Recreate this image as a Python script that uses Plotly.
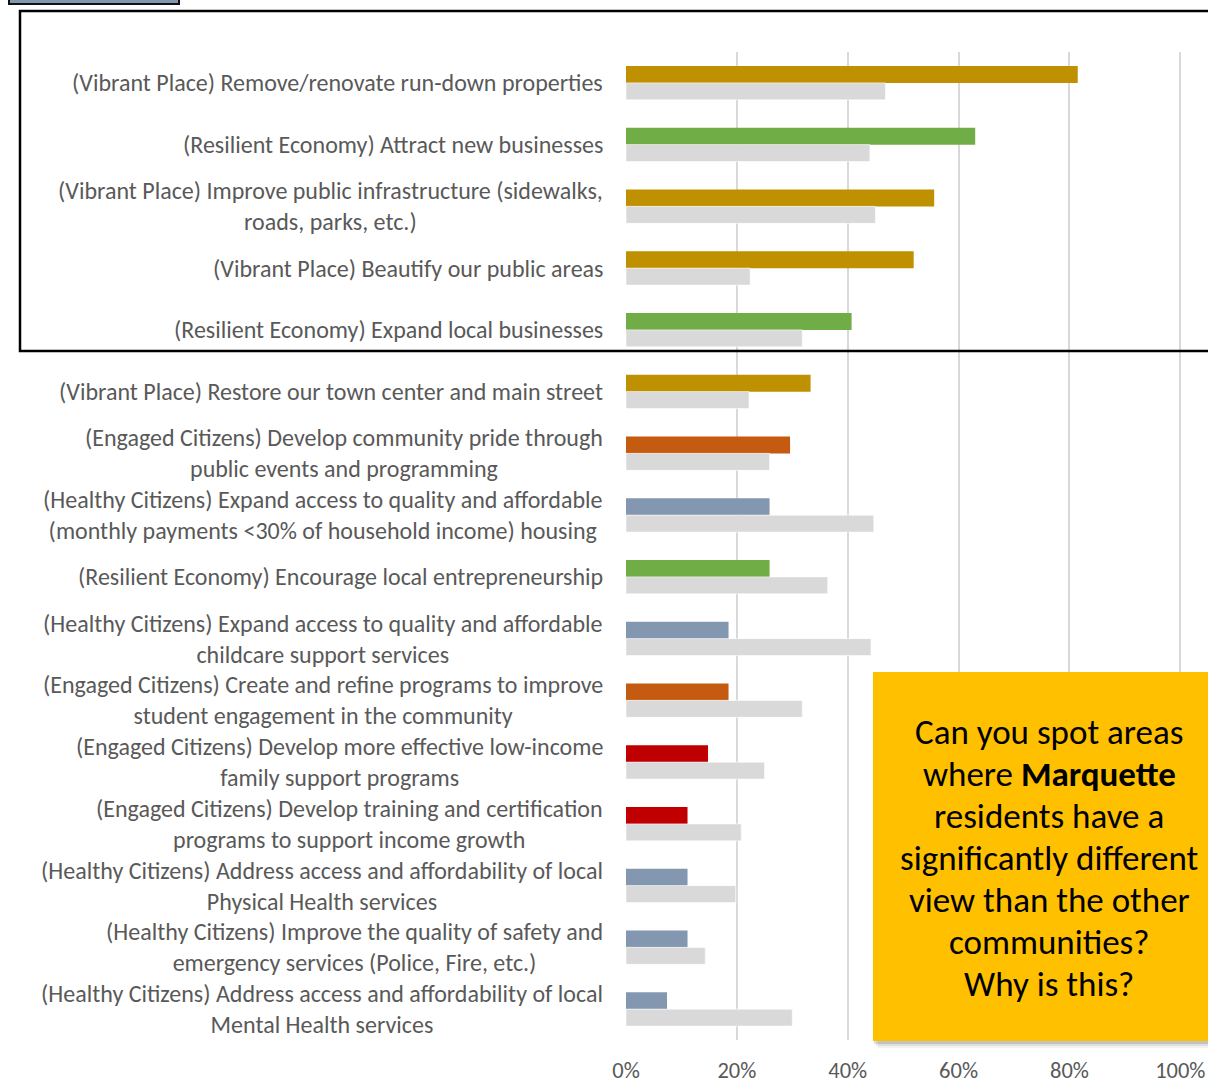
import plotly.graph_objects as go

# Survey priorities: share of Marquette residents vs. the other communities
categories = [
    "(Vibrant Place) Remove/renovate run-down properties",
    "(Resilient Economy) Attract new businesses",
    "(Vibrant Place) Improve public infrastructure (sidewalks,<br>roads, parks, etc.)",
    "(Vibrant Place) Beautify our public areas",
    "(Resilient Economy) Expand local businesses",
    "(Vibrant Place) Restore our town center and main street",
    "(Engaged Citizens) Develop community pride through<br>public events and programming",
    "(Healthy Citizens) Expand access to quality and affordable<br>(monthly payments <30% of household income) housing",
    "(Resilient Economy) Encourage local entrepreneurship",
    "(Healthy Citizens) Expand access to quality and affordable<br>childcare support services",
    "(Engaged Citizens) Create and refine programs to improve<br>student engagement in the community",
    "(Engaged Citizens) Develop more effective low-income<br>family support programs",
    "(Engaged Citizens) Develop training and certification<br>programs to support income growth",
    "(Healthy Citizens) Address access and affordability of local<br>Physical Health services",
    "(Healthy Citizens) Improve the quality of safety and<br>emergency services (Police, Fire, etc.)",
    "(Healthy Citizens) Address access and affordability of local<br>Mental Health services",
]

marquette = [0.815, 0.630, 0.556, 0.519, 0.407, 0.333, 0.296, 0.259,
             0.259, 0.185, 0.185, 0.148, 0.111, 0.111, 0.111, 0.074]
other_communities = [0.468, 0.440, 0.450, 0.224, 0.318, 0.222, 0.259, 0.447,
                     0.364, 0.442, 0.318, 0.250, 0.208, 0.198, 0.143, 0.300]

bar_colors = ["#BF9000", "#70AD47", "#BF9000", "#BF9000", "#70AD47", "#BF9000",
              "#C55A11", "#8497B0", "#70AD47", "#8497B0", "#C55A11", "#C00000",
              "#C00000", "#8497B0", "#8497B0", "#8497B0"]

x_ticks = [0, 0.2, 0.4, 0.6, 0.8, 1.0]
x_tick_labels = ["0%", "20%", "40%", "60%", "80%", "100%"]

callout_lines = [
    "Can you spot areas",
    "where <b>Marquette</b>",
    "residents have a",
    "significantly different",
    "view than the other",
    "communities?",
    "Why is this?",
]

FONT = "Carlito, Lato, sans-serif"
W, H = 1208, 1087
ML, MR, MT, MB = 626, 0, 52, 47
PW, PH = W - ML - MR, H - MT - MB


def px_x(px):
    return (px - ML) / PW


def px_y(py):
    return (H - MB - py) / PH


ids = list(range(len(categories)))

fig = go.Figure()
fig.add_trace(go.Bar(
    y=ids, x=marquette, orientation="h", name="Marquette",
    marker=dict(color=bar_colors, line=dict(width=0)),
    hoverinfo="x",
))
fig.add_trace(go.Bar(
    y=ids, x=other_communities, orientation="h", name="Other communities",
    marker=dict(color="#D9D9D9", line=dict(color="#FFFFFF", width=0.6)),
    hoverinfo="x",
))

# Category labels, right-aligned against the axis with centred wrapped lines
annotations = []
for i, label in enumerate(categories):
    annotations.append(dict(
        x=0, xref="paper", xanchor="right", xshift=-21,
        y=i, yref="y", yanchor="middle",
        text=label, showarrow=False, align="center",
        font=dict(family=FONT, size=24, color="#595959"),
    ))

# Callout text, one line at a time
line_gap = 42
first_line_y = 732
for k, line in enumerate(callout_lines):
    annotations.append(dict(
        x=px_x(1049), xref="paper", xanchor="center",
        y=px_y(first_line_y + k * line_gap), yref="paper", yanchor="middle",
        text=line, showarrow=False,
        font=dict(family=FONT, size=35, color="#000000"),
    ))

shapes = []
# Highlight frame around the top five priorities
shapes.append(dict(
    type="rect", xref="paper", yref="paper",
    x0=px_x(20), x1=px_x(1230), y0=px_y(351), y1=px_y(11),
    line=dict(color="#000000", width=2.5), fillcolor="rgba(0,0,0,0)", layer="above",
))
# Small tab at the top-left corner
shapes.append(dict(
    type="rect", xref="paper", yref="paper",
    x0=px_x(9), x1=px_x(179), y0=px_y(4), y1=px_y(-10),
    line=dict(color="#111111", width=2), fillcolor="#8497B0", layer="above",
))
# Soft drop shadow under the callout
for off, alpha in [(7, 0.05), (5, 0.08), (3, 0.12)]:
    shapes.append(dict(
        type="rect", xref="paper", yref="paper",
        x0=px_x(873 + off - 2), x1=px_x(1240), y0=px_y(1041 + off), y1=px_y(672 + off),
        line=dict(width=0), fillcolor=f"rgba(0,0,0,{alpha})", layer="above",
    ))
# Callout box
shapes.append(dict(
    type="rect", xref="paper", yref="paper",
    x0=px_x(873), x1=px_x(1240), y0=px_y(1041), y1=px_y(672),
    line=dict(width=0), fillcolor="#FFC000", layer="above",
))

fig.update_layout(
    width=W, height=H,
    margin=dict(l=ML, r=MR, t=MT, b=MB, pad=0),
    paper_bgcolor="#FFFFFF", plot_bgcolor="#FFFFFF",
    barmode="group", bargap=0.45, bargroupgap=0,
    showlegend=False,
    annotations=annotations, shapes=shapes,
    font=dict(family=FONT, color="#595959"),
)
fig.update_xaxes(
    range=[0, 1.05], tickvals=x_ticks, ticktext=x_tick_labels,
    showgrid=True, gridcolor="#D9D9D9", gridwidth=2,
    zeroline=False, showline=False, ticks="",
    tickfont=dict(family=FONT, size=22.5, color="#595959"),
    ticklabelstandoff=14, fixedrange=True,
)
fig.update_yaxes(
    range=[len(categories) - 0.5, -0.5], showticklabels=False,
    showgrid=False, zeroline=False, showline=False, ticks="", fixedrange=True,
)

fig.write_html("out.html", config={"displayModeBar": False})
